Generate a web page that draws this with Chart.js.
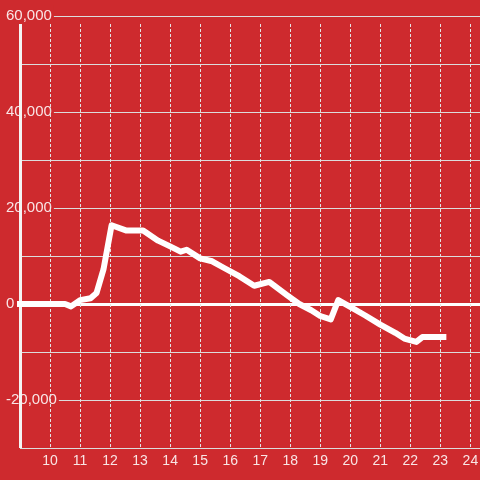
<!DOCTYPE html>
<html lang="en">
<head>
  <meta charset="UTF-8">
  <title>Line</title>
  <style>
    html, body { margin: 0; padding: 0; background: #ce2a2e; }
    #wrap { width: 480px; height: 480px; }
  </style>
  <script src="https://cdn.jsdelivr.net/npm/chart.js"></script>
</head>
<body>
  <div id="wrap"><canvas id="chart"></canvas></div>
  <script>
    // values
    const xValues = [9.0, 10.5, 10.7, 11.0, 11.35, 11.55, 11.78, 12.05, 12.55, 13.1, 13.6, 14.0, 14.35, 14.55, 15.0, 15.4, 15.8, 16.3, 16.8, 17.3, 17.9, 18.3, 18.7, 19.0, 19.35, 19.6, 20.0, 20.5, 21.0, 21.5, 21.8, 22.2, 22.4, 23.1];
    const yValues = [0, 0, -500, 800, 1200, 2300, 7200, 16400, 15300, 15300, 13200, 12000, 10900, 11300, 9500, 8900, 7500, 5800, 3800, 4600, 1800, 0, -1300, -2500, -3200, 800, -600, -2400, -4300, -6000, -7200, -7900, -6900, -6900];
    const xTicks = [10, 11, 12, 13, 14, 15, 16, 17, 18, 19, 20, 21, 22, 23, 24];
    const yMin = -30000, yMax = 60000, yStep = 10000, yLabelStep = 20000;

    const red = '#ce2a2e';
    const textColor = 'rgba(255,255,255,0.88)';

    // dashed verticals and the y axis bar, drawn under the line
    const frame = {
      id: 'frame',
      beforeDatasetsDraw(chart) {
        const { ctx, chartArea: a, scales: { x } } = chart;
        ctx.save();
        ctx.strokeStyle = '#e4e4e4';
        ctx.lineWidth = 1;
        ctx.setLineDash([3, 2]);
        xTicks.forEach(v => {
          const px = Math.round(x.getPixelForValue(v)) + 0.5;
          ctx.beginPath();
          ctx.moveTo(px, a.top + 8);
          ctx.lineTo(px, a.bottom);
          ctx.stroke();
        });
        ctx.setLineDash([]);
        ctx.strokeStyle = '#f4f4f4';
        ctx.lineWidth = 3;
        ctx.beginPath();
        ctx.moveTo(a.left + 0.5, a.top + 8);
        ctx.lineTo(a.left + 0.5, a.bottom);
        ctx.stroke();
        ctx.restore();
      }
    };

    new Chart(document.getElementById('chart'), {
      type: 'line',
      data: {
        datasets: [{
          data: xValues.map((x, i) => ({ x: x, y: yValues[i] })),
          borderColor: '#ffffff',
          borderWidth: 6,
          borderJoinStyle: 'round',
          borderCapStyle: 'square',
          pointRadius: 0,
          tension: 0,
          clip: false
        }]
      },
      options: {
        responsive: true,
        maintainAspectRatio: false,
        animation: false,
        layout: { padding: { top: 16, left: 0, right: 0, bottom: 0 } },
        plugins: { legend: { display: false }, tooltip: { enabled: false } },
        scales: {
          x: {
            type: 'linear',
            min: 9,
            max: 24.32,
            afterBuildTicks: s => { s.ticks = xTicks.map(v => ({ value: v })); },
            afterFit: s => { s.height = 32; s.paddingLeft = 0; s.paddingRight = 0; },
            grid: { display: false, drawTicks: false },
            border: { display: false },
            ticks: {
              color: textColor,
              font: { family: 'Liberation Sans, Arial, sans-serif', size: 14 },
              padding: 5,
              maxRotation: 0,
              autoSkip: false
            }
          },
          y: {
            min: yMin,
            max: yMax,
            afterFit: s => { s.width = 20; },
            grid: {
              drawTicks: false,
              color: c => c.tick && c.tick.value === 0 ? '#ffffff' : '#dcdcdc',
              lineWidth: c => c.tick && c.tick.value === 0 ? 3 : 1
            },
            border: { display: false },
            ticks: {
              stepSize: yStep,
              mirror: true,
              padding: -14,
              color: textColor,
              font: { family: 'Liberation Sans, Arial, sans-serif', size: 15 },
              showLabelBackdrop: true,
              backdropColor: red,
              backdropPadding: { left: 1, right: 2, top: 2, bottom: 2 },
              callback: v => v % yLabelStep === 0 ? v.toLocaleString('en-US') : ''
            }
          }
        }
      },
      plugins: [frame]
    });
  </script>
</body>
</html>
